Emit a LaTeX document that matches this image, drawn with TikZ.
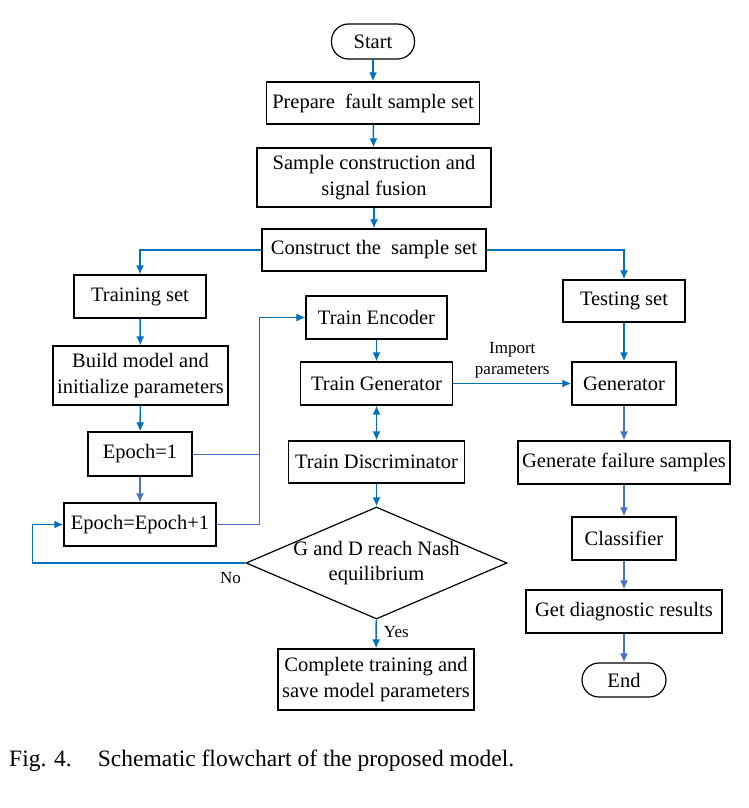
\documentclass[tikz,border=0pt]{standalone}
\usepackage{fontspec}
\setmainfont{Liberation Serif}
\usetikzlibrary{shapes.geometric,arrows.meta}
\definecolor{flowblue}{RGB}{0,112,192}
\definecolor{paleblue}{RGB}{68,114,196}
\tikzset{
	procbox/.style={draw,line width=1.2pt,inner sep=0pt,align=center,minimum height=43pt,
		font=\fontsize{20.5}{25.5}\selectfont},
	termbox/.style={procbox,rounded corners=17pt,minimum height=35pt},
	flow/.style={->,flowblue,line width=1.5pt},
	paleflow/.style={->,paleblue,line width=1.5pt},
	thinflow/.style={paleblue,line width=1pt},
	smalltext/.style={font=\fontsize{17}{21}\selectfont,inner sep=1pt,align=center,text=black}
}

\begin{document}
\begin{tikzpicture}[x=1pt,y=-1pt,>={Latex[length=9pt,width=8pt]}]
		\useasboundingbox (0,0) rectangle (749,808);
		% middle column
		\node[termbox,minimum width=83pt] (start) at (373,41.5) {Start};
		\node[procbox,minimum width=213pt,minimum height=42pt] (prep) at (373,103) {Prepare\ \ fault sample set};
		\node[procbox,minimum width=234pt,minimum height=59pt] (fusion) at (374,177.5) {Sample construction and\\signal fusion};
		\node[procbox,minimum width=224pt,minimum height=42pt] (construct) at (374,250) {Construct the\ \ sample set};
		\node[procbox,minimum width=141pt] (encoder) at (376.5,317.5) {Train Encoder};
		\node[procbox,minimum width=152pt] (gen) at (376.5,383.5) {Train Generator};
		\node[procbox,minimum width=176pt,minimum height=42pt] (disc) at (376.5,462) {Train Discriminator};
		\node[draw,diamond,line width=1.2pt,inner sep=0pt,minimum width=261pt,minimum height=112pt] (nash) at (376.5,563) {};
		\node[procbox,draw=none] (nashtxt) at (nash.center) {G and D reach Nash\\equilibrium};
		\node[procbox,minimum width=196pt,minimum height=61pt] (complete) at (376,679.5) {Complete training and\\save model parameters};
		% left column
		\node[procbox,minimum width=132pt] (trainset) at (140,296.5) {Training set};
		\node[procbox,minimum width=175pt,minimum height=59pt] (build) at (140.5,375.5) {Build model and\\initialize parameters};
		\node[procbox,minimum width=104pt,minimum height=44pt] (epochone) at (140,454) {Epoch=1};
		\node[procbox,minimum width=152pt] (epochn) at (140,524.5) {Epoch=Epoch+1};
		% right column
		\node[procbox,minimum width=122pt,minimum height=42pt] (testset) at (624,301) {Testing set};
		\node[procbox,minimum width=104pt] (generator) at (624,383.5) {Generator};
		\node[procbox,minimum width=212pt] (failure) at (624,462.5) {Generate failure samples};
		\node[procbox,minimum width=104pt] (classifier) at (624,538.5) {Classifier};
		\node[procbox,minimum width=196pt] (results) at (624,611.5) {Get diagnostic results};
		\node[termbox,minimum width=84pt,minimum height=34pt] (finish) at (624,680) {End};
		% connectors
		\foreach \a/\b in {start/prep,prep/fusion,fusion/construct,trainset/build,build/epochone,encoder/gen,disc/nash,testset/generator}
			{\draw[flow] (\a) -- (\b);
			};
		\foreach \a/\b in {epochone/epochn,generator/failure,failure/classifier,classifier/results,results/finish}
			{\draw[paleflow] (\a) -- (\b);
			};
		\draw[flow] (construct.west) -| (trainset.north);
		\draw[flow] (construct.east) -| (testset.north);
		\draw[flow,<->] (gen) -- (disc);
		\draw[flow] (gen) -- node[smalltext,above=4pt] {Import\\parameters} (generator);
		\coordinate (joint) at (259,454);
		\draw[thinflow] (epochone.east) -- (joint);
		\draw[thinflow] (epochn.east) -| (joint);
		\draw[thinflow,flowblue,->] (joint) |- (encoder.west);
		\draw[flow] (nash.west) -- node[smalltext,pos=0.07,below=8pt] {No} ++(-213,0) |- (epochn.west);
		\draw[flow] (nash) -- node[smalltext,pos=0.45,right=6pt] {Yes} (complete);
		% caption
		\node[anchor=base west,inner sep=0pt,font=\fontsize{23.5}{28}\selectfont] (caption) at (9,766) {Fig. 4.\hspace{26pt}Schematic flowchart of the proposed model.};
\end{tikzpicture}
\end{document}
